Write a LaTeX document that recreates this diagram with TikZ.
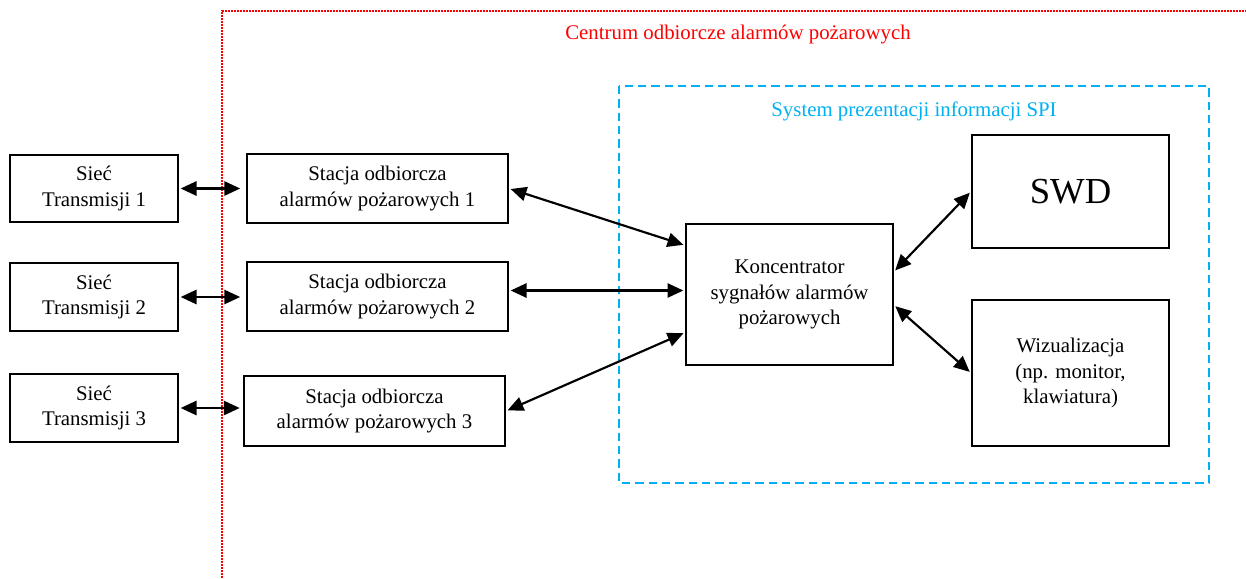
\documentclass[tikz,border=0pt]{standalone}
\usepackage{fontspec}
\setmainfont{Liberation Serif}
\usetikzlibrary{arrows.meta,calc}
\definecolor{spiblue}{RGB}{0,176,240}
\tikzset{
  box/.style={draw, line width=1.2pt, inner sep=0pt, align=center,
    font=\fontsize{12.5}{15.5}\selectfont},
  link/.style={line width=1.3pt, {Triangle[length=9.5pt,width=8.5pt]}-{Triangle[length=9.5pt,width=8.5pt]}}
}
\begin{document}
\begin{tikzpicture}[x=0.6pt,y=-0.6pt]
    \useasboundingbox (0,0) rectangle (1246,578);
    \draw [red, line width=1.2pt, dash pattern=on 1pt off 0.8pt](222,578)--(222,11)--(1246,11);
    \node (centrum) at (738,35) [text=red, font=\fontsize{12.5}{15}\selectfont] {Centrum odbiorcze alarmów pożarowych};
    \draw [spiblue, line width=1.2pt, dash pattern=on 5pt off 3pt](619,86) rectangle (1209,483);
    \node (spi) at (914,111) [text=spiblue, font=\fontsize{12.5}{15}\selectfont] {System prezentacji informacji SPI};
    \node (siec1) at (94,188.5) [box, minimum width=100.8pt, minimum height=40.2pt] {Sieć\\Transmisji 1};
    \node (siec2) at (94,297) [box, minimum width=100.8pt, minimum height=40.8pt] {Sieć\\Transmisji 2};
    \node (siec3) at (94,408) [box, minimum width=100.8pt, minimum height=40.8pt] {Sieć\\Transmisji 3};
    \node (stacja1) at (377.5,188.5) [box, minimum width=156.6pt, minimum height=41.4pt] {Stacja odbiorcza\\alarmów pożarowych 1};
    \node (stacja2) at (377.5,296.5) [box, minimum width=156.6pt, minimum height=41.4pt] {Stacja odbiorcza\\alarmów pożarowych 2};
    \node (stacja3) at (374.5,411) [box, minimum width=156.6pt, minimum height=42pt] {Stacja odbiorcza\\alarmów pożarowych 3};
    \node (konc) at (789.5,294.5) [box, minimum width=124.2pt, minimum height=84.6pt] {Koncentrator\\sygnałów alarmów\\pożarowych};
    \node (swd) at (1070.5,191.5) [box, minimum width=118.2pt, minimum height=67.8pt, font=\fontsize{22}{26}\selectfont] {SWD};
    \node (wiz) at (1070.5,373) [box, minimum width=118.2pt, minimum height=87.6pt] {Wizualizacja\\(np. monitor,\\klawiatura)};
    \draw [link, shorten <=1pt, shorten >=3.5pt](siec1.east)--(stacja1.west);
    \draw [link, shorten <=1pt, shorten >=3.5pt](siec2.east)--(siec2.east -| stacja2.west);
    \draw [link, shorten <=1pt, shorten >=2pt](siec3.east)--(siec3.east -| stacja3.west);
    \draw [link, shorten <=1pt, shorten >=1pt](stacja1.east)--($(konc.north west)!0.156!(konc.south west)$);
    \draw [link, shorten <=1pt, shorten >=1pt]([yshift=3.6pt]stacja2.east)--([yshift=3.6pt]stacja2.east -| konc.west);
    \draw [link, shorten <=1pt, shorten >=1pt](stacja3.east)--($(konc.north west)!0.766!(konc.south west)$);
    \draw [link, shorten <=1pt, shorten >=1pt]($(konc.north east)!0.34!(konc.south east)$)--(swd.west);
    \draw [link, shorten <=1pt, shorten >=1pt]($(konc.north east)!0.574!(konc.south east)$)--(wiz.west);
\end{tikzpicture}
\end{document}
